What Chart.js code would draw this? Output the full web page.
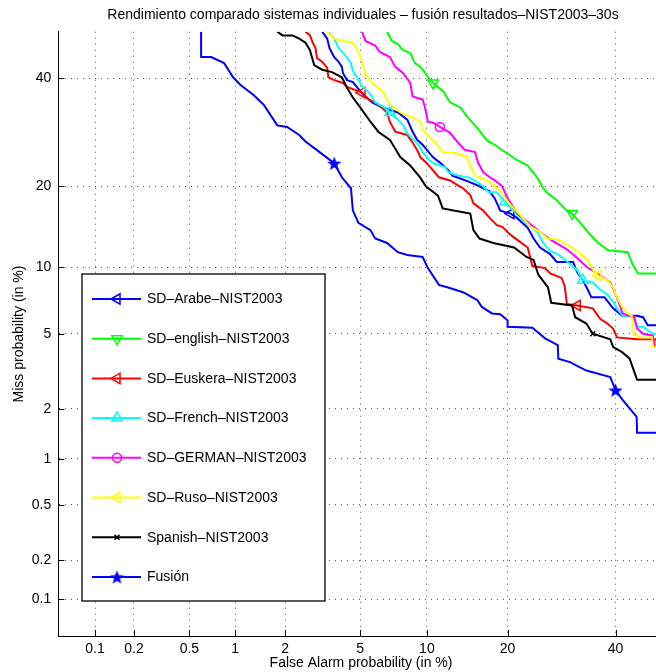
<!DOCTYPE html>
<html><head><meta charset="utf-8">
<script src="https://cdn.jsdelivr.net/npm/chart.js@4.4.0/dist/chart.umd.min.js"></script>
<style>
html,body{margin:0;padding:0;background:#fff;overflow:hidden;width:656px;height:672px}
#wrap{position:absolute;left:0;top:0;width:680px;height:672px}
</style>
</head><body><div id="wrap"><canvas id="c" width="680" height="672"></canvas></div>
<script>
// ---- data (percent values) ----
const xTickValues=[0.1,0.2,0.5,1,2,5,10,20,40];
const xTickLabels=['0.1','0.2','0.5','1','2','5','10','20','40'];
const yTickValues=[0.1,0.2,0.5,1,2,5,10,20,40];
const yTickLabels=['0.1','0.2','0.5','1','2','5','10','20','40'];
const axisLimits=[0.05,50];
const titleText='Rendimiento comparado sistemas individuales \u2013 fusi\u00f3n resultados\u2013NIST2003\u201330s';
const xTitle='False Alarm probability (in %)';
const yTitle='Miss probability (in %)';
const seriesNames=['SD\u2013Arabe\u2013NIST2003','SD\u2013english\u2013NIST2003','SD\u2013Euskera\u2013NIST2003','SD\u2013French\u2013NIST2003','SD\u2013GERMAN\u2013NIST2003','SD\u2013Ruso\u2013NIST2003','Spanish\u2013NIST2003','Fusi\u00f3n'];

const arabe=[[3.2,50],[3.4,48.5],[3.5,46.4],[3.7,44.5],[3.9,43.5],[4.05,42.4],[4.1,41.1],[4.3,39.6],[4.6,39.2],[4.85,38],[5.2,36.5],[5.7,35],[6.4,34],[7.5,33],[8.25,31.6],[8.7,29.3],[9.1,27.8],[9.6,26.9],[10,26],[10.6,24.7],[11.3,23.8],[12.1,22.7],[12.7,21.6],[13.6,21.2],[14.8,20.6],[16,20],[17.4,19.2],[18.1,18.2],[18.9,16.5],[20.5,16.1],[21.5,15.5],[23.2,14.3],[24.2,13],[25.3,12],[27.1,11.3],[28.3,10.5],[31.4,10.5],[32.2,9.5],[33.3,8.8],[34.3,8],[35,7.4],[37.7,7.4],[39.5,6.6],[41.4,6.1],[44.6,6.1],[45.9,6],[46.9,5.5],[50,5.5]];
const english=[[6.7,50],[7.05,48],[7.5,47.3],[7.9,46],[8.5,45.4],[8.9,43.2],[9.4,42.4],[9.8,41.3],[10.3,39.6],[10.6,39],[11.7,37.2],[12.4,35],[13.6,34],[14.4,32.2],[15.7,30],[17,27.7],[18.1,26.9],[19.9,25.4],[21.5,24.2],[23.2,23.3],[24.8,21.4],[25.8,19.8],[26.6,19],[28.2,18],[30.2,16.5],[31.2,16.1],[32.8,14.9],[34.7,13.5],[36.4,12.5],[38.5,11.7],[42.6,11.5],[43.6,10.3],[44.8,9.4],[50,9.4]];
const euskera=[[2.6,50],[2.75,49.2],[2.85,47.6],[2.95,46.4],[3.0,44.3],[3.2,43.5],[3.4,42.2],[3.45,40.2],[3.7,39.6],[4.1,39],[4.3,38.2],[5.1,37],[5.5,35.6],[6.1,34.6],[6.7,33],[6.9,31.2],[7.3,29.3],[8.25,28.7],[8.7,27.3],[9.1,26],[9.4,24.7],[10,23.7],[10.6,22.5],[11.2,21.4],[12.4,20.9],[13.2,20.2],[13.9,19.7],[14.8,18.7],[15.2,17.5],[16.5,16.5],[17.4,15.5],[18.4,14.6],[19.2,14.4],[20.5,13.4],[22,12.6],[23.2,12],[24,10.1],[26.2,9.9],[27.1,9.4],[29.2,9],[29.8,8.3],[30.2,6.9],[32.2,6.8],[35.3,6.6],[36.8,5.9],[38.3,5.6],[39.5,5.3],[40.3,4.8],[44.6,4.7],[48.7,4.7],[49,4.45],[50,4.45]];
const french=[[3.45,50],[3.7,48.5],[3.9,46.4],[4.2,45],[4.5,43.2],[4.6,41.5],[4.85,40],[5,39],[5.2,38],[5.6,36.7],[5.9,35],[6.4,34.2],[6.9,33],[7.5,31.6],[7.9,30.6],[8.25,29],[8.8,27.8],[9.2,26.9],[9.6,25.6],[10.1,24.5],[10.6,23.7],[11.9,23],[12.2,22.2],[13.3,21.7],[14.8,21.3],[15.7,20.6],[16.5,20],[17.2,19.1],[18.4,19.1],[19.6,17.7],[20.9,16.5],[22.5,15.2],[23.7,14.4],[24.8,13.8],[25.8,12.6],[27.1,11.6],[28.5,11.3],[30.6,10.4],[32.2,9.7],[33.3,8.8],[35.3,8.6],[36.8,8],[38.3,7.6],[39.5,7.1],[40.3,6.6],[41.5,6.1],[43.6,6.1],[44.6,5.4],[45.9,5.4],[46.9,5.2],[48,5],[50,5]];
const german=[[5.1,50],[5.3,48],[5.9,47],[6.2,45.6],[6.9,44.5],[7.3,42.4],[7.9,41.1],[8.5,39],[8.7,36.2],[9.6,35.6],[9.8,34.2],[10.1,31.2],[10.6,31],[11.3,30.2],[12.4,29.1],[13.2,27.5],[14.1,26],[15.4,25.6],[15.8,23.8],[16.5,22.2],[17.4,21.4],[18.1,20.9],[19.2,20],[19.9,18.4],[21.5,16.1],[23.7,14.7],[25.3,13.8],[27.1,12.9],[30.2,11.8],[32.2,10.9],[34.1,10],[36.2,9.4],[38.9,8.6],[39.5,8.1],[40.5,7.2],[41.5,6.25],[44,6],[44.6,5.3],[45.9,5],[48,4.9],[48.5,4.3],[50,4.3]];
const ruso=[[3.4,50],[3.7,48.5],[4.1,48],[4.6,47.6],[4.9,45.6],[5.1,43.5],[5.3,40.8],[5.7,39],[6.4,37.2],[6.8,35],[7.1,34.2],[7.7,33],[8.5,32.2],[9.4,31.2],[9.6,29.7],[10.3,28.2],[11,27],[11.6,25.6],[13.2,25.4],[14.4,24.7],[14.8,23.3],[15.4,21.7],[17,20.9],[18.1,20.1],[18.9,19.2],[20.5,17.2],[22,15.9],[23.7,14.4],[25.3,13.8],[26.6,13],[28.5,12.9],[30.6,12.2],[32.2,11.6],[34.1,10.8],[35.4,9.7],[36.4,9.2],[38.3,8.8],[39.5,8.2],[40.3,7.4],[41.4,6.7],[42.4,6.3],[43.4,6.1],[44,5],[45.2,4.8],[47.8,4.8],[48,4.3],[50,4.3]];
const spanish=[[1.8,50],[1.93,49.2],[2.2,49.2],[2.4,48.5],[2.6,47.6],[2.75,46],[2.9,42.8],[3.2,41.8],[3.6,41.3],[4.05,40.2],[4.3,38],[4.6,36],[5,34],[5.6,31.2],[6.1,29.3],[6.9,27.8],[7.7,24.7],[8.5,23.3],[9.4,21.3],[9.9,20],[11.1,18.6],[11.6,16.8],[12.8,16.5],[14.8,16.1],[15.2,14],[16,13],[17.9,12.5],[21,12],[23,11],[24.2,10.7],[25,9.3],[26.7,8.2],[27.3,7],[31.2,6.8],[31.8,6],[34,5.6],[35.3,5],[38.9,4.7],[39.5,4.3],[41.4,4.05],[43,3.75],[44.6,2.9],[50,2.9]];
const fusion=[[0.6,50],[0.6,44.5],[0.7,44.5],[0.85,43.2],[0.97,40.2],[1.08,38.6],[1.3,36.5],[1.5,34.5],[1.8,30.5],[2.05,30.2],[2.4,28.7],[2.6,27.5],[3.1,25.6],[3.7,23.7],[4.05,21.4],[4.5,19.7],[4.6,16.5],[4.9,14.9],[5.6,14],[5.9,13],[6.7,12.5],[7.5,11.5],[8.25,11.2],[9.6,11],[10.1,9.9],[11.2,8.4],[12.1,8.2],[13.9,7.8],[15.7,7.2],[16.3,6.7],[17.7,6.25],[18.9,6.2],[20,5.8],[20,5.4],[24,5.35],[26.2,4.75],[28.5,4.4],[28.6,3.75],[30.8,3.6],[34,3.25],[38.9,3],[40,2.55],[41.5,2.25],[44.5,1.8],[44.6,1.45],[50,1.45]];

// ---- helpers ----
function probit(p){
  const a=[-3.969683028665376e+01,2.209460984245205e+02,-2.759285104469687e+02,1.383577518672690e+02,-3.066479806614716e+01,2.506628277459239e+00];
  const b=[-5.447609879822406e+01,1.615858368580409e+02,-1.556989798598866e+02,6.680131188771972e+01,-1.328068155288572e+01];
  const c=[-7.784894002430293e-03,-3.223964580411365e-01,-2.400758277161838e+00,-2.549732539343734e+00,4.374664141464968e+00,2.938163982698783e+00];
  const d=[7.784695709041462e-03,3.224671290700398e-01,2.445134137142996e+00,3.754408661907416e+00];
  const pl=0.02425,ph=1-pl;let q,r;
  if(p<pl){q=Math.sqrt(-2*Math.log(p));return (((((c[0]*q+c[1])*q+c[2])*q+c[3])*q+c[4])*q+c[5])/((((d[0]*q+d[1])*q+d[2])*q+d[3])*q+1);}
  if(p<=ph){q=p-0.5;r=q*q;return (((((a[0]*r+a[1])*r+a[2])*r+a[3])*r+a[4])*r+a[5])*q/(((((b[0]*r+b[1])*r+b[2])*r+b[3])*r+b[4])*r+1);}
  q=Math.sqrt(-2*Math.log(1-p));return -(((((c[0]*q+c[1])*q+c[2])*q+c[3])*q+c[4])*q+c[5])/((((d[0]*q+d[1])*q+d[2])*q+d[3])*q+1);
}
function starImg(color,size){
  const cv=document.createElement('canvas');cv.width=cv.height=size;
  const g=cv.getContext('2d');g.fillStyle=color;g.beginPath();
  const cx=size/2,cy=size/2+0.8,R=size/2,r=R*0.42;
  for(let i=0;i<10;i++){const ang=-Math.PI/2+i*Math.PI/5;const rr=i%2?r:R;g.lineTo(cx+rr*Math.cos(ang),cy+rr*Math.sin(ang));}
  g.closePath();g.fill();return cv;
}
const FONT='"Liberation Sans", Arial, Helvetica, sans-serif';

const styles=[
  {data:arabe,color:'#0000ff',ps:'triangle',rot:-90,r:6,marks:[20.5]},
  {data:english,color:'#00ff00',ps:'triangle',rot:180,r:6,marks:[10.6,31.2]},
  {data:euskera,color:'#ff0000',ps:'triangle',rot:-90,r:6,marks:[5.1,32.2]},
  {data:french,color:'#00ffff',ps:'triangle',rot:0,r:6,marks:[6.9,19.6,33.3]},
  {data:german,color:'#ff00ff',ps:'circle',rot:0,r:4.5,marks:[11.3]},
  {data:ruso,color:'#ffff00',ps:'triangle',rot:-90,r:6,marks:[36.4]},
  {data:spanish,color:'#000000',ps:'crossRot',rot:0,r:3.5,marks:[35.3]},
  {data:fusion,color:'#0000ff',ps:starImg('#0000ff',15),rot:0,r:7,marks:[3.7,40]}
];

const N=styles.length;
const datasets=styles.map((s,i)=>({
  label:seriesNames[i],
  data:s.data.map(([fa,miss])=>({x:probit(fa/100),y:probit(miss/100),fa:fa})),
  borderColor:s.color,borderWidth:2,
  pointStyle:s.ps,pointRotation:s.rot,
  pointBorderColor:s.color,pointBackgroundColor:'rgba(0,0,0,0)',pointBorderWidth:1.5,
  pointRadius:(ctx)=>(ctx.raw&&s.marks.includes(ctx.raw.fa))?s.r:0,
  pointHoverRadius:(ctx)=>(ctx.raw&&s.marks.includes(ctx.raw.fa))?s.r:0,
  tension:0,fill:false,order:N-i
}));

function drawMarker(ctx,s,x,y){
  ctx.strokeStyle=s.color;ctx.fillStyle='rgba(0,0,0,0)';ctx.lineWidth=1.5;
  if(Chart.helpers&&Chart.helpers.drawPoint){
    Chart.helpers.drawPoint(ctx,{pointStyle:s.ps,rotation:s.rot,radius:s.r,borderWidth:1.5},x,y);
  }
}

const decor={id:'decor',afterDraw(chart){
  const {ctx,chartArea:ca,scales:{x,y}}=chart;
  ctx.save();
  ctx.strokeStyle='#000';ctx.lineWidth=1;ctx.setLineDash([]);ctx.beginPath();
  xTickValues.forEach(v=>{const px=Math.round(x.getPixelForValue(probit(v/100)))+0.5;ctx.moveTo(px,ca.bottom);ctx.lineTo(px,ca.bottom-6);});
  yTickValues.forEach(v=>{const py=Math.round(y.getPixelForValue(probit(v/100)))+0.5;ctx.moveTo(ca.left,py);ctx.lineTo(ca.left+6,py);});
  ctx.stroke();
  ctx.fillStyle='#000';ctx.font='14px '+FONT;ctx.textAlign='center';ctx.textBaseline='middle';
  ctx.fillText(titleText,363,15);
  ctx.fillText(xTitle,361,663);
  ctx.save();ctx.translate(19,334);ctx.rotate(-Math.PI/2);ctx.fillText(yTitle,0,0);ctx.restore();
  // legend box
  const L=82,T=274,R=325,B=601;
  ctx.fillStyle='#fff';ctx.fillRect(L,T,R-L,B-T);
  ctx.strokeStyle='#000';ctx.lineWidth=1.3;ctx.strokeRect(L,T,R-L,B-T);
  styles.forEach((s,i)=>{
    const ry=299+i*39.7;
    ctx.strokeStyle=s.color;ctx.lineWidth=2;ctx.beginPath();ctx.moveTo(92,ry);ctx.lineTo(141,ry);ctx.stroke();
    drawMarker(ctx,s,117,ry);
    ctx.fillStyle='#000';ctx.font='14px '+FONT;ctx.textAlign='left';ctx.textBaseline='middle';
    ctx.fillText(seriesNames[i],147,ry+0.5);
  });
  ctx.restore();
}};

const gridCfg={color:'#555',lineWidth:1,drawTicks:false};
const borderCfg={display:true,color:'#000',width:1,dash:[1,5]};
new Chart(document.getElementById('c'),{
  type:'line',
  data:{datasets},
  options:{
    responsive:false,animation:false,
    layout:{padding:{left:0,right:18,top:31.7,bottom:0}},
    plugins:{legend:{display:false},tooltip:{enabled:false},title:{display:false}},
    scales:{
      x:{type:'linear',min:probit(axisLimits[0]/100),max:probit(axisLimits[1]/100),
        afterBuildTicks:(s)=>{s.ticks=xTickValues.map(v=>({value:probit(v/100)}));},
        afterFit:(s)=>{s.height=36;},
        ticks:{autoSkip:false,maxRotation:0,minRotation:0,padding:5,color:'#000',font:{family:FONT,size:14},callback:(v,i)=>xTickLabels[i]},
        grid:gridCfg,border:borderCfg},
      y:{type:'linear',min:probit(axisLimits[0]/100),max:probit(axisLimits[1]/100),
        afterBuildTicks:(s)=>{s.ticks=yTickValues.map(v=>({value:probit(v/100)}));},
        afterFit:(s)=>{s.width=58.3;},
        ticks:{autoSkip:false,padding:7,color:'#000',font:{family:FONT,size:14},callback:(v,i)=>yTickLabels[i]},
        grid:gridCfg,border:borderCfg}
    }
  },
  plugins:[decor]
});
</script>
</body></html>
